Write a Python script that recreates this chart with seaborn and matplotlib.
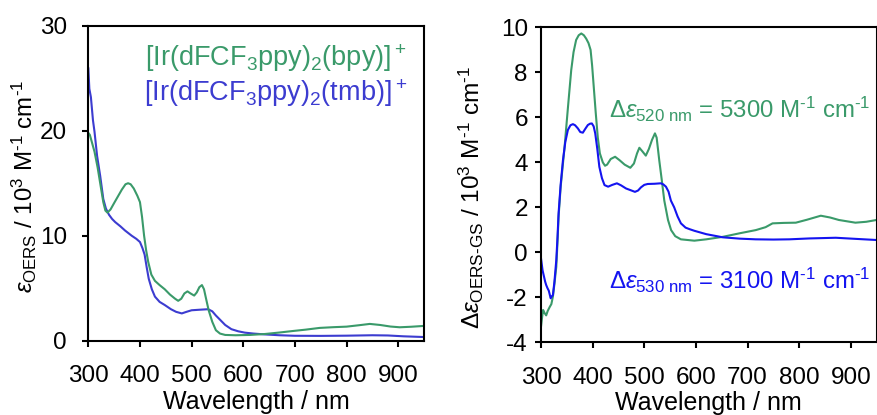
import matplotlib
matplotlib.use("Agg")
import matplotlib.pyplot as plt
import seaborn as sns
import pandas as pd

# Ground-state-corrected absorption spectra (left) and difference spectra (right)
wl_abs_bpy = [300, 303, 312, 318, 323, 329, 333, 337, 343, 351, 358, 365, 372, 377, 382, 388,
              395, 400, 404, 408, 412, 416, 422, 429, 438, 448, 458, 468, 474, 480, 486, 492,
              498, 505, 510, 515, 520, 524, 528, 533, 540, 547, 555, 565, 585, 613, 642, 670,
              697, 720, 748, 775, 800, 825, 845, 865, 885, 903, 925, 950]
eps_abs_bpy = [19.8, 19.6, 18.0, 16.5, 15.0, 13.2, 12.4, 12.2, 12.5, 13.2, 13.8, 14.4, 14.9, 15.0,
               14.9, 14.5, 13.8, 13.2, 11.8, 10.0, 8.6, 7.5, 6.3, 5.7, 5.3, 4.9, 4.4, 4.0, 3.8,
               4.0, 4.5, 4.7, 4.5, 4.3, 4.6, 5.1, 5.3, 4.9, 4.0, 2.9, 1.8, 1.0, 0.68, 0.55, 0.52,
               0.55, 0.64, 0.78, 0.93, 1.05, 1.22, 1.29, 1.34, 1.48, 1.6, 1.5, 1.35, 1.28, 1.33,
               1.41]

wl_abs_tmb = [300, 302, 305, 309, 312, 317, 323, 329, 334, 340, 346, 352, 362, 371, 384, 393,
              400, 405, 409, 413, 417, 423, 429, 438, 448, 460, 470, 481, 490, 500, 515, 532,
              540, 547, 555, 565, 577, 590, 603, 620, 642, 670, 700, 750, 800, 850, 880, 910, 950]
eps_abs_tmb = [26.0, 24.0, 23.2, 21.0, 19.9, 17.6, 15.7, 13.5, 12.6, 12.0, 11.6, 11.3, 10.9, 10.5,
               10.0, 9.7, 9.4, 8.8, 8.2, 7.0, 5.9, 4.9, 4.2, 3.7, 3.4, 3.0, 2.75, 2.6, 2.75, 2.9,
               2.95, 3.0, 2.8, 2.4, 2.0, 1.5, 1.1, 0.9, 0.77, 0.68, 0.6, 0.52, 0.47, 0.46, 0.48,
               0.52, 0.5, 0.42, 0.35]

wl_diff_bpy = [300, 302, 304, 307, 310, 313, 317, 320, 323, 326, 329.6, 332, 334, 338, 345.7, 352,
               358.5, 363, 368, 373, 378, 383, 387.5, 392, 396, 399, 402, 406, 410, 414, 419.7,
               424, 428, 435, 443.5, 452, 462, 473, 480, 486, 490.5, 496, 503, 509, 515, 520.7,
               524, 529, 534, 538.8, 546, 552, 560, 571, 597, 620, 652, 685, 716, 735, 748.5, 770,
               793.6, 815, 842, 860, 877, 909, 930, 950]
deps_bpy = [-3.3, -2.9, -2.56, -2.7, -2.8, -2.6, -2.42, -2.3, -1.97, -1.4, -0.64, 0.5, 1.58, 2.9,
            4.7, 6.4, 8.1, 8.9, 9.44, 9.65, 9.73, 9.65, 9.5, 9.3, 9.0, 8.3, 7.4, 6.2, 5.1, 4.4,
            4.0, 3.85, 3.9, 4.15, 4.25, 4.1, 3.9, 3.76, 3.95, 4.4, 4.65, 4.5, 4.3, 4.6, 5.0, 5.29,
            5.1, 4.1, 3.2, 2.3, 1.44, 0.99, 0.72, 0.58, 0.52, 0.58, 0.69, 0.85, 0.99, 1.12, 1.29,
            1.31, 1.32, 1.45, 1.63, 1.55, 1.44, 1.32, 1.36, 1.44]

wl_diff_tmb = [300, 303, 305.8, 308, 310, 312.7, 315, 318.7, 321, 323, 326, 329.6, 332, 334, 338,
               342.5, 347, 352, 357, 361.8, 366, 371.4, 376, 381, 386, 390.7, 395, 398.5, 402,
               405, 409, 413, 418, 423, 430, 438, 447, 455, 464.7, 474, 482, 488, 493.6, 500,
               506.6, 520, 532, 537, 542, 547, 551.6, 558, 564.5, 571, 580, 588, 597, 620, 652,
               685, 716, 750, 781, 820, 871, 910, 950]
deps_tmb = [-0.27, -0.8, -1.08, -1.3, -1.45, -1.6, -1.7, -2.04, -1.95, -1.9, -1.3, -0.34, 0.7,
            1.73, 3.0, 4.1, 4.9, 5.44, 5.65, 5.7, 5.65, 5.51, 5.35, 5.32, 5.5, 5.66, 5.72, 5.73,
            5.6, 5.29, 4.6, 3.8, 3.3, 2.99, 2.92, 3.0, 3.07, 2.98, 2.84, 2.76, 2.69, 2.75, 2.89,
            3.0, 3.04, 3.05, 3.07, 3.02, 2.92, 2.7, 2.3, 2.0, 1.6, 1.29, 1.1, 1.03, 0.96, 0.81,
            0.67, 0.61, 0.58, 0.57, 0.58, 0.62, 0.65, 0.6, 0.55]

x_ticks = [300, 400, 500, 600, 700, 800, 900]
y_ticks_abs = [0, 10, 20, 30]
y_ticks_diff = [-4, -2, 0, 2, 4, 6, 8, 10]

GREEN = "#3a9a6a"
BLUE_ABS = "#3c3cd0"
BLUE_DIFF = "#1414f0"
FS = 17.5

sns.set_theme(style="ticks")
plt.rcParams.update({
    "font.family": ["Liberation Sans", "DejaVu Sans"],
    "mathtext.fontset": "custom",
    "mathtext.rm": "Liberation Sans",
    "mathtext.it": "Liberation Sans:italic",
    "mathtext.bf": "Liberation Sans:bold",
    "axes.unicode_minus": False,
    "axes.linewidth": 1.5,
    "xtick.major.width": 1.5,
    "ytick.major.width": 1.5,
    "xtick.major.size": 4.5,
    "ytick.major.size": 4.5,
    "xtick.direction": "out",
    "ytick.direction": "out",
    "xtick.color": "black",
    "ytick.color": "black",
    "axes.edgecolor": "black",
    "text.color": "black",
    "axes.labelcolor": "black",
    "font.size": FS,
})

fig = plt.figure(figsize=(8.77, 4.15), dpi=100)
ax1 = fig.add_axes([0.1007, 0.179, 0.3828, 0.759])
ax2 = fig.add_axes([0.6169, 0.175, 0.3826, 0.759])

df_abs_bpy = pd.DataFrame({"wl": wl_abs_bpy, "v": eps_abs_bpy})
df_abs_tmb = pd.DataFrame({"wl": wl_abs_tmb, "v": eps_abs_tmb})
df_diff_bpy = pd.DataFrame({"wl": wl_diff_bpy, "v": deps_bpy})
df_diff_tmb = pd.DataFrame({"wl": wl_diff_tmb, "v": deps_tmb})

sns.lineplot(data=df_abs_tmb, x="wl", y="v", ax=ax1, color=BLUE_ABS, lw=1.5)
sns.lineplot(data=df_abs_bpy, x="wl", y="v", ax=ax1, color=GREEN, lw=1.5)
sns.lineplot(data=df_diff_bpy, x="wl", y="v", ax=ax2, color=GREEN, lw=1.5)
sns.lineplot(data=df_diff_tmb, x="wl", y="v", ax=ax2, color=BLUE_DIFF, lw=1.5)

units = r" / 10$^3$ M" + r"$^{\text{-}1}$" + r" cm" + r"$^{\text{-}1}$"

for ax in (ax1, ax2):
    ax.set_xlim(300, 950)
    ax.set_xticks(x_ticks)
    ax.tick_params(axis="x", labelsize=FS, pad=13)
    ax.set_xlabel("Wavelength / nm", fontsize=18, labelpad=2)
    for s in ax.spines.values():
        s.set_visible(True)
        s.set_linewidth(1.5)
        s.set_color("black")

ax1.tick_params(axis="y", labelsize=FS, pad=11)
ax2.tick_params(axis="y", labelsize=FS, pad=5)

ax1.set_ylim(0, 30)
ax1.set_yticks(y_ticks_abs)
ax1.set_ylabel(r"$\varepsilon_{\mathrm{OERS}}$" + units, fontsize=17.3)
ax1.yaxis.set_label_coords(-0.148, 0.49)

ax2.set_ylim(-4, 10)
ax2.set_yticks(y_ticks_diff)
ax2.set_ylabel(r"$\mathit{\Delta\varepsilon}_{\mathrm{OERS\text{-}GS}}$" + units, fontsize=17.6)
ax2.yaxis.set_label_coords(-0.163, 0.46)

ax1.text(0.95, 0.871, r"[Ir(dFCF$_3$ppy)$_2$(bpy)]$^+$", color=GREEN, fontsize=19.5,
         ha="right", va="baseline", transform=ax1.transAxes)
ax1.text(0.95, 0.761, r"[Ir(dFCF$_3$ppy)$_2$(tmb)]$^+$", color=BLUE_ABS, fontsize=19.5,
         ha="right", va="baseline", transform=ax1.transAxes)

ax2.text(0.983, 0.711, r"$\mathit{\Delta\varepsilon}_{\mathrm{520\ nm}}$ = 5300 M"
         + r"$^{\text{-}1}$ cm$^{\text{-}1}$",
         color=GREEN, fontsize=17.3, ha="right", va="baseline", transform=ax2.transAxes)
ax2.text(0.983, 0.171, r"$\mathit{\Delta\varepsilon}_{\mathrm{530\ nm}}$ = 3100 M"
         + r"$^{\text{-}1}$ cm$^{\text{-}1}$",
         color=BLUE_DIFF, fontsize=17.3, ha="right", va="baseline", transform=ax2.transAxes)

fig.savefig("out.png", dpi=100)
